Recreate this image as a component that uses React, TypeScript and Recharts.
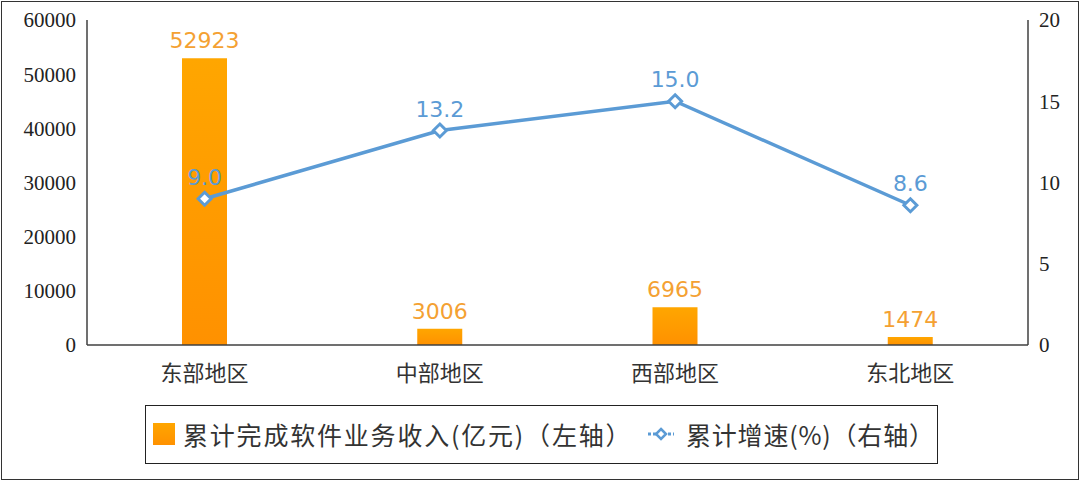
import { ComposedChart, Bar, Line, XAxis, YAxis, LabelList } from "recharts";

const regions = ["东部地区", "中部地区", "西部地区", "东北地区"];
const revenue = [52923, 3006, 6965, 1474];
const growth = [9.0, 13.2, 15.0, 8.6];
const leftTicks = [0, 10000, 20000, 30000, 40000, 50000, 60000];
const rightTicks = [0, 5, 10, 15, 20];

const BLUE = "#5B9BD5";
const ORANGE_TEXT = "#F4A132";
const AXIS = "#404040";

const data = regions.map((name, i) => ({ name, revenue: revenue[i], growth: growth[i] }));

const Diamond = (props: any) => {
  const { cx, cy } = props;
  if (cx == null || cy == null) return null;
  const r = 6.5;
  return (
    <polygon
      points={`${cx},${cy - r} ${cx + r},${cy} ${cx},${cy + r} ${cx - r},${cy}`}
      fill="#fff"
      stroke={BLUE}
      strokeWidth={3}
    />
  );
};

const tickFont = { fontSize: 21, fill: "#222", fontFamily: "'Liberation Serif', 'Times New Roman', serif" };

const App = () => {
  return (
    <div style={{ position: "absolute", left: 0, top: 0, width: 1080, height: 481, background: "#fff" }}>
      <div
        style={{
          position: "absolute",
          left: 1,
          top: 1,
          width: 1076,
          height: 477,
          border: "1px solid #333",
        }}
      />
      <div style={{ position: "absolute", left: 0, top: 0 }}>
        <ComposedChart width={1080} height={481} data={data} margin={{ top: 20, right: 0, bottom: 0, left: 0 }}>
          <defs>
            <linearGradient id="barGrad" x1="0" y1="0" x2="0" y2="1">
              <stop offset="0%" stopColor="#FFA600" />
              <stop offset="100%" stopColor="#FF9100" />
            </linearGradient>
          </defs>
          <XAxis
            dataKey="name"
            height={136}
            axisLine={{ stroke: AXIS, strokeWidth: 1.5 }}
            tickLine={false}
            tickMargin={14}
            tick={{ fontSize: 22, fill: "#333", fontFamily: "'Noto Sans CJK SC', sans-serif" }}
          />
          <YAxis
            yAxisId="left"
            width={87}
            domain={[0, 60000]}
            ticks={leftTicks}
            axisLine={{ stroke: AXIS, strokeWidth: 1.5 }}
            tickLine={false}
            tickMargin={5}
            tick={tickFont}
          />
          <YAxis
            yAxisId="right"
            orientation="right"
            width={52}
            domain={[0, 20]}
            ticks={rightTicks}
            axisLine={{ stroke: AXIS, strokeWidth: 1.5 }}
            tickLine={false}
            tickMargin={5}
            tick={tickFont}
          />
          <Bar yAxisId="left" dataKey="revenue" barSize={45} fill="url(#barGrad)" isAnimationActive={false}>
            <LabelList
              dataKey="revenue"
              position="top"
              offset={10}
              fill={ORANGE_TEXT}
              fontSize={22}
              fontFamily="'DejaVu Sans', sans-serif"
            />
          </Bar>
          <Line
            yAxisId="right"
            dataKey="growth"
            stroke={BLUE}
            strokeWidth={3.5}
            dot={<Diamond />}
            activeDot={false}
            isAnimationActive={false}
          >
            <LabelList
              dataKey="growth"
              position="top"
              offset={14}
              fill={BLUE}
              fontSize={22}
              fontFamily="'DejaVu Sans', sans-serif"
              formatter={(v: any) => Number(v).toFixed(1)}
            />
          </Line>
        </ComposedChart>
      </div>
      <div
        style={{
          position: "absolute",
          left: 145,
          top: 405,
          width: 791,
          height: 57,
          border: "1.5px solid #222",
          fontFamily: "'Noto Sans CJK SC', sans-serif",
          fontSize: 25,
          color: "#333",
        }}
      >
        <span
          style={{
            position: "absolute",
            left: 7,
            top: 17,
            width: 22,
            height: 22,
            background: "linear-gradient(#FFA600, #FF9100)",
          }}
        />
        <span style={{ position: "absolute", left: 37, top: 10, lineHeight: "36px", letterSpacing: 1.8, whiteSpace: "nowrap" }}>
          累计完成软件业务收入(亿元)（左轴）
        </span>
        <svg width={28} height={20} style={{ position: "absolute", left: 501, top: 18 }}>
          <line x1={1} y1={10} x2={27} y2={10} stroke={BLUE} strokeWidth={3} strokeDasharray="3 2" />
          <polygon points="14,5 19,10 14,15 9,10" fill="#fff" stroke={BLUE} strokeWidth={2.5} />
        </svg>
        <span style={{ position: "absolute", left: 540, top: 10, lineHeight: "36px", letterSpacing: 0.8, whiteSpace: "nowrap" }}>
          累计增速(%)（右轴）
        </span>
      </div>
    </div>
  );
};

export default App;
